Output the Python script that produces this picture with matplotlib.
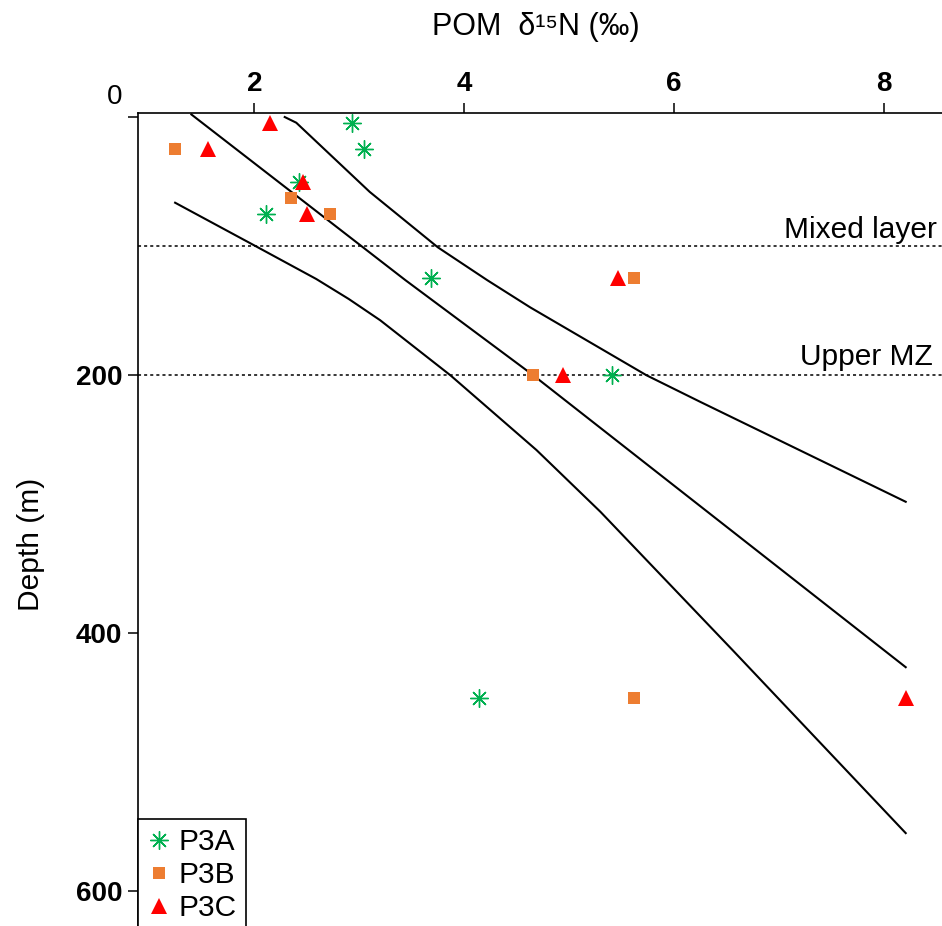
import matplotlib
matplotlib.use('Agg')
import matplotlib.pyplot as plt

plt.rcParams['font.family'] = ['Liberation Sans', 'DejaVu Sans']

# sample depths (m) and POM d15N values for each station
depth_a = [5, 25, 50, 75, 125, 200, 450]
d15n_a = [2.93, 3.05, 2.43, 2.11, 3.68, 5.41, 4.14]

depth_b = [25, 63, 75, 125, 200, 450]
d15n_b = [1.24, 2.35, 2.72, 5.62, 4.66, 5.62]

depth_c = [5, 25, 50, 75, 125, 200, 450]
d15n_c = [2.15, 1.56, 2.46, 2.50, 5.47, 4.94, 8.21]

# fitted curve and its bounds
fit_x = [1.40, 3.44, 4.66, 8.21]
fit_y = [-2, 126.4, 200.2, 426.4]

upper_x = [2.29, 2.40, 3.10, 3.75, 4.22, 4.63, 5.74, 6.25, 8.21]
upper_y = [0, 4.4, 58.0, 101.0, 126.4, 147.5, 200.2, 220.7, 298.2]

lower_x = [1.245, 2.00, 2.59, 2.90, 3.20, 3.87, 4.69, 5.30, 6.56, 8.21]
lower_y = [66.4, 99.5, 125.5, 141.0, 157.5, 200.2, 258.1, 306.0, 413.2, 555.0]

layer_depths = [100, 200]
layer_names = ['Mixed layer', 'Upper MZ']

fig = plt.figure(figsize=(9.42, 9.26), dpi=100)
ax = fig.add_axes([138.3 / 942, 0, 1 - 138.3 / 942, 1 - 113.3 / 926])

for xs, ys in [(fit_x, fit_y), (upper_x, upper_y), (lower_x, lower_y)]:
  ax.plot(xs, ys, color='black', lw=1.5, solid_joinstyle='round')

for d in layer_depths:
  ax.axhline(d, color='black', lw=1.1, linestyle=(0, (2, 2)))
ax.text(8.51, 93.5, layer_names[0], ha='right', va='baseline', fontsize=21.5)
ax.text(8.47, 192.5, layer_names[1], ha='right', va='baseline', fontsize=21.5)

ax.plot(d15n_a, depth_a, linestyle='none', marker=(8, 2, 0), ms=13,
        mew=1.0, color='#00B050', label='P3A')
ax.plot(d15n_b, depth_b, linestyle='none', marker='s', ms=8.5,
        color='#ED7D31', mew=0, label='P3B')
ax.plot(d15n_c, depth_c, linestyle='none', marker='^', ms=11,
        color='#FF0000', mew=0, label='P3C')

ax.set_xlim(0.894, 8.556)
ax.set_ylim(627, -2.9)

ax.xaxis.tick_top()
ax.set_xticks([2, 4, 6, 8])
ax.set_yticks([0, 200, 400, 600])
ax.set_yticklabels(['', '200', '400', '600'])
ax.tick_params(axis='both', direction='out', length=7.5, width=1.1,
               labelsize=20, pad=4)
for lab in ax.get_xticklabels() + ax.get_yticklabels():
  lab.set_fontweight('bold')

for side in ['right', 'bottom']:
  ax.spines[side].set_visible(False)
for side in ['left', 'top']:
  ax.spines[side].set_linewidth(1.2)

ax.set_ylabel('Depth (m)', fontsize=21.5)
ax.yaxis.set_label_coords(-0.116, 0.47)

fig.text(114.5 / 942, 1 - 96.7 / 926, '0', ha='center', va='center', fontsize=20)
fig.text(536 / 942, 1 - 27 / 926, 'POM  δ¹⁵N (‰)', ha='center', va='center',
         fontsize=22)

leg = ax.legend(loc='upper left', bbox_to_anchor=(138.3 / 942, 1 - 819 / 926),
                bbox_transform=fig.transFigure, borderaxespad=0,
                fontsize=21.5, frameon=True, fancybox=False, borderpad=0.3,
                handlelength=0.8, handletextpad=0.25, labelspacing=0.17,
                framealpha=1)
leg.get_frame().set_edgecolor('black')
leg.get_frame().set_linewidth(1.2)

fig.savefig('out.png', dpi=100)
